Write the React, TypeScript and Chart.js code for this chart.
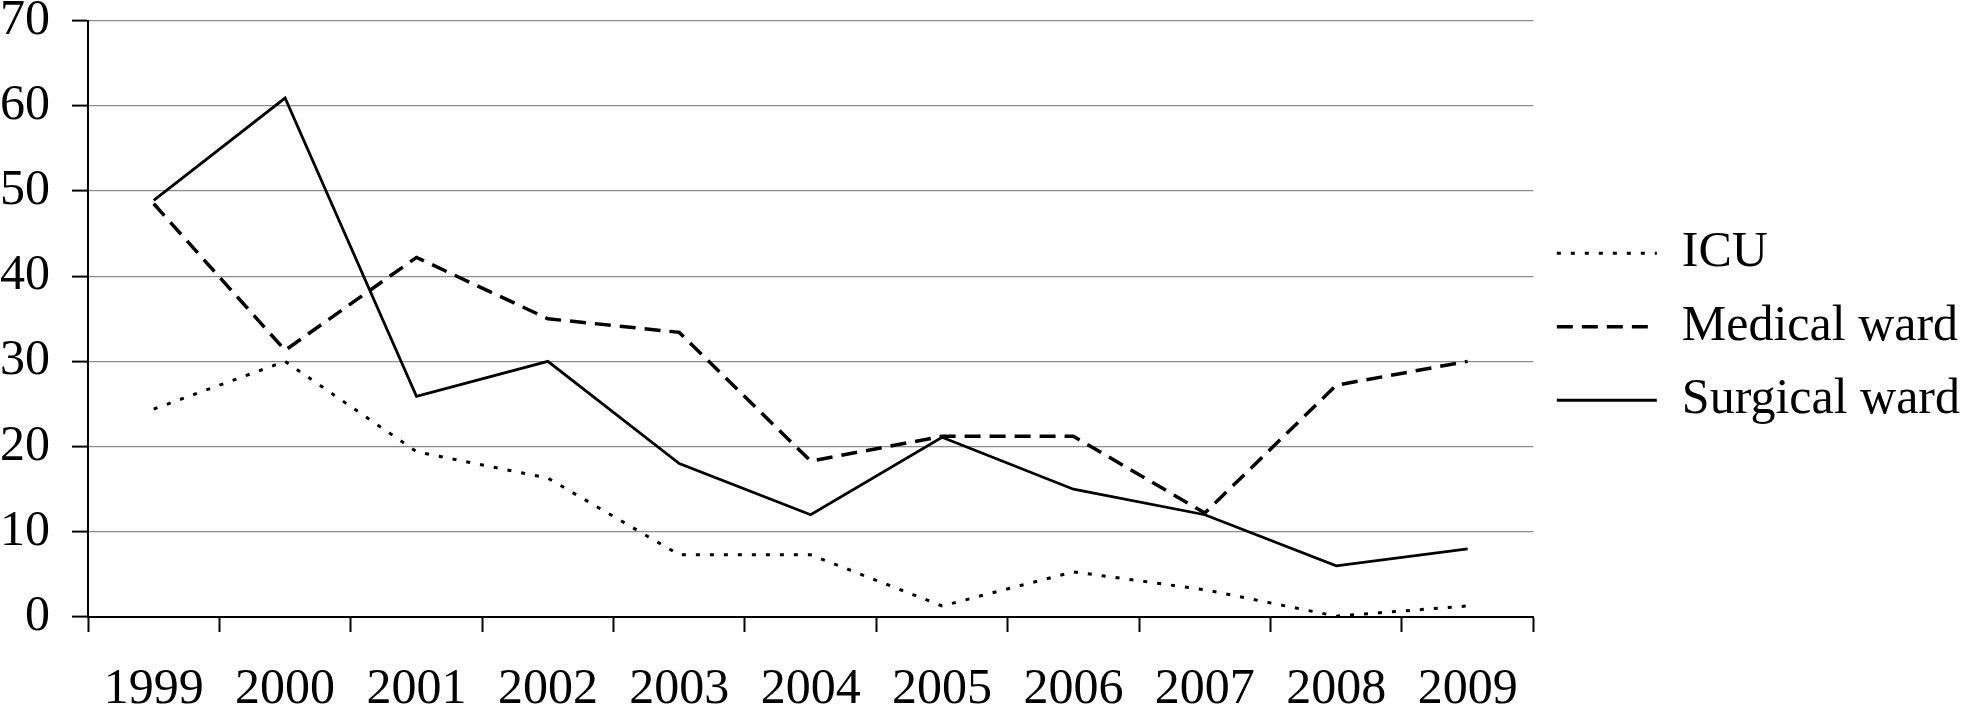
import React, { useEffect, useRef } from "react";
import { Chart, registerables } from "chart.js";

Chart.register(...registerables);

const years = ["1999", "2000", "2001", "2002", "2003", "2004", "2005", "2006", "2007", "2008", "2009"];
const icu = [24.4, 30.0, 19.4, 16.3, 7.3, 7.3, 1.3, 5.3, 3.2, 0.1, 1.3];
const medicalWard = [48.5, 31.3, 42.2, 35.0, 33.4, 18.3, 21.2, 21.2, 12.2, 27.2, 30.0];
const surgicalWard = [48.9, 60.9, 25.9, 30.0, 18.0, 12.0, 21.1, 15.0, 12.0, 6.0, 8.0];
const yMin = 0;
const yMax = 70;
const yStep = 10;

const FONT = "'Liberation Serif', 'Times New Roman', serif";

// canvas overhang so the plot area lands where the reference has it
const OFF_LEFT = 22;
const OFF_TOP = 19;
const OFF_BOTTOM = 36;
const OFF_RIGHT = 7;

export default function App() {
  const canvasRef = useRef<HTMLCanvasElement | null>(null);

  useEffect(() => {
    document.body.style.margin = "0";
    const canvas = canvasRef.current;
    if (!canvas) return;
    const chart = new Chart(canvas, {
      type: "line",
      data: {
        labels: years,
        datasets: [
          {
            label: "ICU",
            data: icu,
            borderColor: "#000",
            backgroundColor: "transparent",
            borderWidth: 3,
            borderDash: [4, 10],
            pointRadius: 0,
            tension: 0,
          },
          {
            label: "Medical ward",
            data: medicalWard,
            borderColor: "#000",
            backgroundColor: "transparent",
            borderWidth: 3.5,
            borderDash: [16, 9],
            pointRadius: 0,
            tension: 0,
          },
          {
            label: "Surgical ward",
            data: surgicalWard,
            borderColor: "#000",
            backgroundColor: "transparent",
            borderWidth: 2.8,
            pointRadius: 0,
            tension: 0,
          },
        ],
      },
      options: {
        animation: false,
        responsive: true,
        maintainAspectRatio: false,
        devicePixelRatio: 1,
        layout: { padding: { top: 0, left: 0, right: 6, bottom: 0 } },
        plugins: {
          tooltip: { enabled: false },
          legend: {
            position: "right",
            align: "center",
            fullSize: false,
            title: {
              display: true,
              text: "",
              padding: 0,
              font: { family: FONT, size: 10, lineHeight: 1.6 },
            },
            labels: {
              usePointStyle: true,
              pointStyle: "line",
              pointStyleWidth: 100,
              padding: 23.5,
              color: "#000",
              font: { family: FONT, size: 50 },
              generateLabels: (c: any) =>
                c.data.datasets.map((ds: any, i: number) => ({
                  text: ds.label,
                  fillStyle: "transparent",
                  strokeStyle: "#000",
                  lineWidth: ds.borderWidth,
                  lineDash: ds.borderDash || [],
                  lineCap: "butt",
                  pointStyle: "line",
                  fontColor: "#000",
                  hidden: false,
                  datasetIndex: i,
                })),
            },
          },
        },
        scales: {
          x: {
            type: "category",
            offset: true,
            border: { display: true, color: "#000", width: 2 },
            grid: {
              offset: true,
              drawOnChartArea: false,
              drawTicks: true,
              tickLength: 15,
              tickColor: "#000",
              tickWidth: 2,
            },
            ticks: {
              color: "#000",
              padding: 37.5,
              maxRotation: 0,
              autoSkip: false,
              font: { family: FONT, size: 50, lineHeight: 0.8 },
            },
          },
          y: {
            min: yMin,
            max: yMax,
            border: { display: true, color: "#000", width: 2 },
            grid: {
              color: "#8c8c8c",
              lineWidth: 1.2,
              drawTicks: true,
              tickLength: 16,
              tickColor: "#000",
              tickWidth: 2,
            },
            ticks: {
              stepSize: yStep,
              color: "#000",
              padding: 22,
              font: { family: FONT, size: 50, lineHeight: 0.7 },
            },
          },
        },
      },
    });
    return () => chart.destroy();
  }, []);

  return (
    <div style={{ width: "1969px", height: "711px", position: "relative", overflow: "hidden" }}>
      <div
        style={{
          position: "absolute",
          left: `${-OFF_LEFT}px`,
          top: `${-OFF_TOP}px`,
          width: `${1969 + OFF_LEFT + OFF_RIGHT}px`,
          height: `${711 + OFF_TOP + OFF_BOTTOM}px`,
        }}
      >
        <canvas ref={canvasRef} />
      </div>
    </div>
  );
}
